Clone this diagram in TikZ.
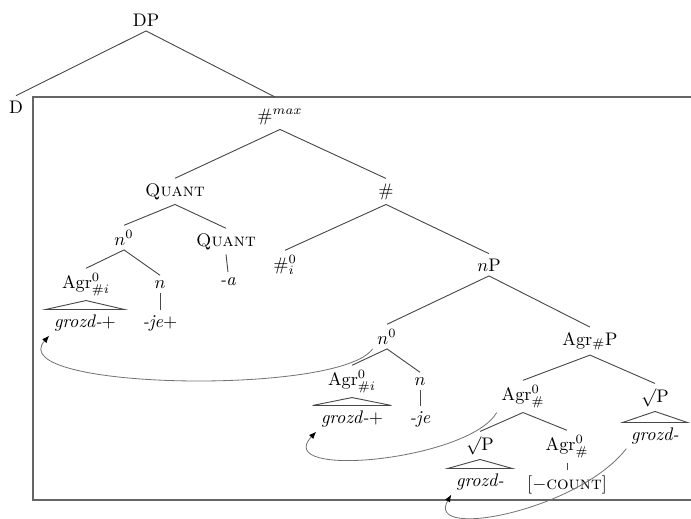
\documentclass[tikz,border=0pt]{standalone}
\usetikzlibrary{calc,arrows.meta}
\begin{document}
\begin{tikzpicture}[x=0.55pt,y=-0.55pt,
  lab/.style={anchor=base,inner sep=2.5pt},
  edge/.style={draw=black!72,line width=0.5pt},
  boxline/.style={draw=black!60,line width=0.7pt},
  move/.style={draw=black!55,line width=0.45pt,-{Latex[length=4pt,width=3.2pt,color=black]}},
  tri/.style={draw=black!72,line width=0.5pt}]
\useasboundingbox (0,0) rectangle (691,518);
\clip (0,0) rectangle (691,518);

% frame
\draw[boxline] (691,97) -- (33,97) -- (33,500) -- (691,500);

% nodes
\node[lab] (dp) at (146,26) {DP};
\node[lab] (d) at (16,113) {D};
\coordinate (boxtop) at (275,97);
\node[lab] (max) at (280,121) {$\#^{max}$};
\node[lab] (quant1) at (175,196) {\textsc{Quant}};
\node[lab] (hash) at (386,196) {$\#$};
\node[lab] (n0a) at (124,245) {$n^0$};
\node[lab] (quant2) at (226,246) {\textsc{Quant}};
\node[lab] (hashi) at (285,270) {$\#^0_i$};
\node[lab] (nP) at (489,271) {$n$P};
\node[lab] (agra) at (86,288) {Agr$^0_{\#i}$};
\node[lab] (na) at (160,288) {$n$};
\node[lab] (aa) at (228,285) {\textit{-a}};
\node[lab] (grozda) at (85,327) {\textit{grozd-}+};
\node[lab] (jea) at (160,327) {\textit{-je}+};
\node[lab] (n0b) at (387,344) {$n^0$};
\node[lab] (agrP) at (590,345) {Agr$_{\#}$P};
\node[lab] (agrb) at (352,385) {Agr$^0_{\#i}$};
\node[lab] (nb) at (420,385) {$n$};
\node[lab] (grozdb) at (352,423) {\textit{grozd-}+};
\node[lab] (jeb) at (420,423) {\textit{-je}};
\node[lab] (agrc) at (523,400) {Agr$^0_{\#}$};
\node[lab] (sqrtA) at (655,402) {$\surd$P};
\node[lab] (grozdc) at (655,440) {\textit{grozd-}};
\node[lab] (sqrtB) at (480,450) {$\surd$P};
\node[lab] (agrd) at (567,450) {Agr$^0_{\#}$};
\node[lab] (grozdd) at (480,486) {\textit{grozd-}};
\node[lab] (count) at (567,489) {[$-$\textsc{count}]};

% branches
\draw[edge] (d.north) -- (dp.south) -- (boxtop);
\draw[edge] (quant1.north) -- (max.south) -- (hash.north);
\draw[edge] (n0a.north) -- (quant1.south) -- (quant2.north);
\draw[edge] (hashi.north) -- (hash.south) -- (nP.north);
\draw[edge] (agra.north) -- (n0a.south) -- (na.north);
\draw[edge] (quant2.south) -- (aa.north);
\draw[edge] (na.south) -- (jea.north);
\draw[edge] (n0b.north) -- (nP.south) -- (agrP.north);
\draw[edge] (agrb.north) -- (n0b.south) -- (nb.north);
\draw[edge] (nb.south) -- (jeb.north);
\draw[edge] (agrc.north) -- (agrP.south) -- (sqrtA.north);
\draw[edge] (sqrtB.north) -- (agrc.south) -- (agrd.north);
\draw[edge] (agrd.south) -- (count.north);

% triangles
\draw[tri] (agra.south) -- ($(grozda.north west)+(-2pt,0pt)$) -- ($(grozda.north east)+(2pt,0pt)$) -- cycle;
\draw[tri] (agrb.south) -- ($(grozdb.north west)+(-2pt,0pt)$) -- ($(grozdb.north east)+(2pt,0pt)$) -- cycle;
\draw[tri] (sqrtA.south) -- ($(grozdc.north west)+(-2pt,0pt)$) -- ($(grozdc.north east)+(2pt,0pt)$) -- cycle;
\draw[tri] (sqrtB.south) -- ($(grozdd.north west)+(-2pt,0pt)$) -- ($(grozdd.north east)+(2pt,0pt)$) -- cycle;

% movement arrows
\draw[move] (n0b.south west) .. controls +(-33,47) and +(-48,54) .. (grozda.south west);
\draw[move] (agrc.south west) .. controls +(-28,48) and +(-45,48) .. (grozdb.south west);
\draw[move] (grozdc.south west) .. controls +(-48,62) and +(-27,46) .. (grozdd.south west);
\end{tikzpicture}
\end{document}
